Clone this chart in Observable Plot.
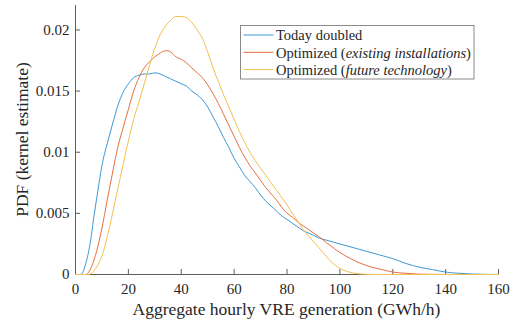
<!DOCTYPE html>
<html>
<head>
<meta charset="utf-8">
<script src="https://cdn.jsdelivr.net/npm/d3@7"></script>
<script src="https://cdn.jsdelivr.net/npm/@observablehq/plot@0.6"></script>
<style>
  html, body { margin: 0; padding: 0; background: #fff; }
  #chart { width: 514px; height: 323px; }
  #chart svg, #chart svg text { font-family: 'Liberation Serif', 'Times New Roman', serif !important; }
</style>
</head>
<body>
<div id="chart"></div>
<script>
// ---- Data ----
const seriesNames = ["Today doubled", "Optimized (existing installations)", "Optimized (future technology)"];

const todayX = [0, 2, 3, 4, 5, 6, 7, 8, 9, 10, 11, 12, 14, 16, 18, 20, 22, 24, 26, 28, 30, 32, 34, 36, 38, 40, 42, 44, 46, 48, 50, 52, 54, 56, 58, 60, 62, 64, 66, 68, 70, 72, 75, 78, 80, 82, 84, 86, 88, 90, 92, 95, 100, 105, 110, 115, 120, 125, 130, 135, 140, 145, 150, 155, 160];
const todayY = [0, 0, 0.0003, 0.0010, 0.0019, 0.0032, 0.0048, 0.0062, 0.0076, 0.0089, 0.0099, 0.0107, 0.0123, 0.0138, 0.0149, 0.0156, 0.0161, 0.0163, 0.0164, 0.0164, 0.0165, 0.0164, 0.0162, 0.0160, 0.0158, 0.0156, 0.0154, 0.0150, 0.0147, 0.0143, 0.0137, 0.0129, 0.0121, 0.0112, 0.0104, 0.0095, 0.0088, 0.0081, 0.0076, 0.0071, 0.0065, 0.0060, 0.0054, 0.0048, 0.0045, 0.0042, 0.0039, 0.0036, 0.0034, 0.0032, 0.0030, 0.0028, 0.0025, 0.0022, 0.0019, 0.0016, 0.0013, 0.0009, 0.0006, 0.0004, 0.0002, 0.0001, 0.00004, 0.00001, 0];

const existingX = [0, 4, 5, 6, 7, 8, 9, 10, 11, 12, 13, 14, 15, 16, 18, 20, 22, 24, 26, 28, 30, 32, 34, 35, 36, 37, 38, 40, 42, 44, 46, 48, 50, 52, 54, 56, 58, 60, 62, 64, 66, 68, 70, 72, 74, 76, 78, 80, 82, 84, 86, 88, 90, 92, 95, 98, 100, 104, 108, 112, 116, 120, 125, 130, 135, 140, 160];
const existingY = [0, 0, 0.0002, 0.0006, 0.0012, 0.0019, 0.0028, 0.0038, 0.0049, 0.0061, 0.0072, 0.0083, 0.0094, 0.0104, 0.0120, 0.0135, 0.0150, 0.0161, 0.0169, 0.0174, 0.0178, 0.0181, 0.0183, 0.0183, 0.0182, 0.0180, 0.0178, 0.0176, 0.0173, 0.0169, 0.0165, 0.0161, 0.0155, 0.0148, 0.0140, 0.0131, 0.0122, 0.0113, 0.0104, 0.0096, 0.0089, 0.0083, 0.0077, 0.0071, 0.0066, 0.0061, 0.0055, 0.0050, 0.0047, 0.0043, 0.0040, 0.0037, 0.0034, 0.0031, 0.0026, 0.0021, 0.0018, 0.0013, 0.0009, 0.0006, 0.0004, 0.0002, 0.0001, 0.00003, 0.00001, 0, 0];

const futureX = [0, 5, 6, 7, 8, 9, 10, 11, 12, 13, 14, 15, 16, 17, 18, 19, 20, 22, 24, 26, 28, 30, 32, 34, 36, 38, 40, 42, 44, 46, 48, 50, 52, 54, 56, 58, 60, 62, 64, 66, 68, 70, 72, 74, 76, 78, 80, 82, 84, 86, 88, 90, 92, 94, 96, 98, 100, 102, 105, 108, 112, 160];
const futureY = [0, 0, 0.0001, 0.0003, 0.0006, 0.0010, 0.0015, 0.0022, 0.0031, 0.0040, 0.0050, 0.0060, 0.0070, 0.0080, 0.0090, 0.0100, 0.0109, 0.0127, 0.0141, 0.0156, 0.0171, 0.0185, 0.0196, 0.0203, 0.0208, 0.0211, 0.0211, 0.0210, 0.0206, 0.0200, 0.0193, 0.0182, 0.0169, 0.0158, 0.0147, 0.0137, 0.0127, 0.0117, 0.0108, 0.0100, 0.0093, 0.0087, 0.0081, 0.0075, 0.0069, 0.0063, 0.0057, 0.0050, 0.0044, 0.0037, 0.0032, 0.0027, 0.0022, 0.0017, 0.0012, 0.0008, 0.0005, 0.0003, 0.00012, 0.00004, 0, 0];

const xTicks = [0, 20, 40, 60, 80, 100, 120, 140, 160];
const yTicks = [0, 0.005, 0.01, 0.015, 0.02];
const yTickLabels = ["0", "0.005", "0.01", "0.015", "0.02"];
const xLabel = "Aggregate hourly VRE generation (GWh/h)";
const yLabel = "PDF (kernel estimate)";
const legendPre = ["Today doubled", "Optimized (", "Optimized ("];
const legendItalic = ["", "existing installations", "future technology"];
const legendPost = ["", ")", ")"];
const seriesColors = ["#3f97d5", "#e3703f", "#f2c04f"];

// ---- Build tidy table ----
const table = [];
[[todayX, todayY], [existingX, existingY], [futureX, futureY]].forEach(([xs, ys], k) => {
  xs.forEach((x, i) => table.push({series: seriesNames[k], x, y: ys[i]}));
});

const axisGray = "#5e5e5e";
const textColor = "#262626";

const plot = Plot.plot({
  width: 514,
  height: 323,
  marginLeft: 75,
  marginRight: 16,
  marginTop: 5,
  marginBottom: 49,
  style: {fontSize: "15px", background: "#fff", color: textColor},
  x: {domain: [0, 160], label: null},
  y: {domain: [0, 0.022], label: null},
  color: {domain: seriesNames, range: seriesColors},
  marks: [
    Plot.axisX({ticks: xTicks, tickSize: -5, tickPadding: 14, stroke: axisGray, fill: textColor, label: null}),
    Plot.axisY({ticks: yTicks, tickSize: -5, tickPadding: 11, stroke: axisGray, fill: textColor, label: null,
      tickFormat: d => yTickLabels[yTicks.indexOf(d)]}),
    Plot.ruleY([0], {stroke: axisGray}),
    Plot.ruleX([0], {stroke: axisGray}),
    Plot.line(table, {x: "x", y: "y", z: "series", stroke: "series", strokeWidth: 1, curve: "monotone-x"})
  ]
});

document.getElementById("chart").appendChild(plot);

// ---- Axis labels and legend ----
const svg = d3.select(plot);
svg.append("text")
  .attr("x", 286.5).attr("y", 315)
  .attr("text-anchor", "middle")
  .attr("fill", textColor)
  .style("font-size", "17.5px")
  .text(xLabel);
svg.append("text")
  .attr("transform", "translate(28,139.5) rotate(-90)")
  .attr("text-anchor", "middle")
  .attr("fill", textColor)
  .style("font-size", "17.5px")
  .text(yLabel);

const lg = svg.append("g");
lg.append("rect")
  .attr("x", 240.5).attr("y", 25.5).attr("width", 233.5).attr("height", 53.5)
  .attr("fill", "#fff").attr("stroke", "#8a8a8a").attr("stroke-width", 1);
seriesNames.forEach((name, i) => {
  const yy = 35 + i * 17.3;
  lg.append("line")
    .attr("x1", 243.5).attr("x2", 273.5).attr("y1", yy).attr("y2", yy)
    .attr("stroke", seriesColors[i]).attr("stroke-width", 1);
  const t = lg.append("text")
    .attr("x", 276).attr("y", yy + 5.3)
    .attr("text-anchor", "start")
    .attr("fill", textColor)
    .style("font-size", "14.5px");
  t.append("tspan").text(legendPre[i]);
  if (legendItalic[i]) t.append("tspan").attr("font-style", "italic").text(legendItalic[i]);
  if (legendPost[i]) t.append("tspan").text(legendPost[i]);
});
</script>
</body>
</html>
